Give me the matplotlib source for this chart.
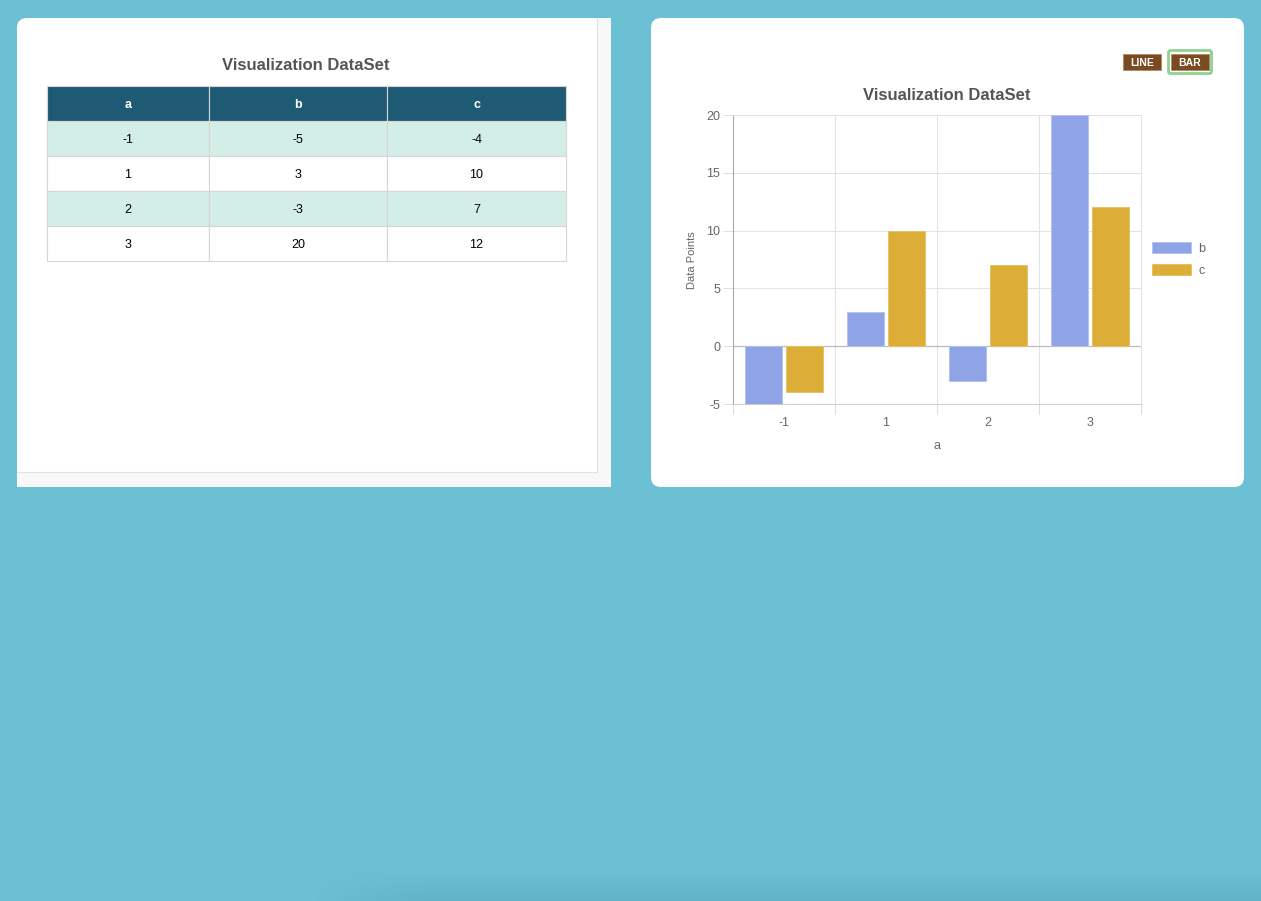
import numpy as np
import matplotlib
matplotlib.use("Agg")
import matplotlib.pyplot as plt
from matplotlib.patches import Rectangle, FancyBboxPatch

plt.rcParams['font.family'] = ['Liberation Sans', 'DejaVu Sans']
plt.rcParams['axes.unicode_minus'] = False

# data
cols = ['a', 'b', 'c']
a_vals = [-1, 1, 2, 3]
b_vals = [-5, 3, -3, 20]
c_vals = [-4, 10, 7, 12]

W, H = 1261, 901
fig = plt.figure(figsize=(W / 100, H / 100), dpi=100)
fig.patch.set_facecolor('#6bc0d4')

# background layer in pixel coords
bg = fig.add_axes([0, 0, 1, 1], zorder=0)
bg.set_xlim(0, W)
bg.set_ylim(H, 0)
bg.axis('off')

# faint shadow at bottom
grad = np.zeros((30, 200, 4))
grad[..., 0] = 0.33
grad[..., 1] = 0.62
grad[..., 2] = 0.70
vert = np.linspace(0, 0.4, 30)[:, None]
horiz = np.clip(np.linspace(0, 8, 200), 0, 1)[None, :]
grad[..., 3] = vert * horiz
bg.imshow(grad, extent=(310, W, H, H - 30), aspect='auto', zorder=1)

# left panel (scroll container)
bg.add_patch(Rectangle((27, 18), 584, 469, facecolor='#f8f8f8', edgecolor='none', zorder=2))
bg.add_patch(Rectangle((17, 28), 594, 459, facecolor='#f8f8f8', edgecolor='none', zorder=2))
bg.add_patch(FancyBboxPatch((17, 18), 580, 454, boxstyle='round,pad=0,rounding_size=10',
                            facecolor='white', edgecolor='none', zorder=3))
bg.add_patch(Rectangle((27, 18), 570, 454, facecolor='white', edgecolor='none', zorder=3))
bg.add_patch(Rectangle((17, 28), 580, 444, facecolor='white', edgecolor='none', zorder=3))
bg.plot([597, 597, 17], [18, 472, 472], color='#e2e2e2', lw=0.8, zorder=4)

# right panel
bg.add_patch(FancyBboxPatch((651, 18), 593, 469, boxstyle='round,pad=0,rounding_size=10',
                            facecolor='white', edgecolor='none', zorder=2))

# buttons
bg.add_patch(FancyBboxPatch((1168.5, 50.5), 43, 23, boxstyle='round,pad=0,rounding_size=2',
                            facecolor='none', edgecolor='#8fd18f', lw=2.0, zorder=4))
for x0, lab in [(1123, 'LINE'), (1171, 'BAR')]:
    bg.add_patch(Rectangle((x0, 54), 38, 16, facecolor='#7a4a20', edgecolor='#a98a6c', lw=0.6, zorder=5))
    bg.text(x0 + 19, 62.5, lab, color='white', fontsize=7.5, fontweight='bold',
            ha='center', va='center', zorder=6)

# table
fig.text(306 / W, 1 - 66 / H, 'Visualization DataSet', ha='center', va='center',
         fontsize=12, fontweight='bold', color='#555555')
tax = fig.add_axes([47 / W, 1 - 261 / H, 519 / W, 175 / H], zorder=3)
tax.axis('off')
rows = [[str(a), str(b), str(c)] for a, b, c in zip(a_vals, b_vals, c_vals)]
tbl = tax.table(cellText=rows, colLabels=cols, cellLoc='center', bbox=[0, 0, 1, 1],
                colWidths=[162, 178, 179])
tbl.auto_set_font_size(False)
for (r, c), cell in tbl.get_celld().items():
    cell.set_edgecolor('#d6d6d6')
    cell.set_linewidth(0.8)
    cell.get_text().set_fontsize(9)
    cell.get_text().set_va('center_baseline')
    if r == 0:
        cell.set_facecolor('#1f5a75')
        cell.get_text().set_color('white')
        cell.get_text().set_fontweight('bold')
    elif r % 2 == 1:
        cell.set_facecolor('#d3eee6')
    else:
        cell.set_facecolor('white')

# bar chart
ax = fig.add_axes([733 / W, 1 - 404 / H, 408 / W, 289 / H], zorder=3)
x = np.arange(len(a_vals))
bw = 0.36
ax.bar(x - 0.2, b_vals, bw, color='#8fa4e6', edgecolor='#b3c2f2', lw=0.7, label='b', zorder=3)
ax.bar(x + 0.2, c_vals, bw, color='#ddae37', edgecolor='#e8c266', lw=0.7, label='c', zorder=3)
ax.set_xlim(-0.5, len(a_vals) - 0.5)
ax.set_ylim(-5, 20)
ax.set_yticks([-5, 0, 5, 10, 15, 20])
ax.set_xticks(np.arange(len(a_vals) + 1) - 0.5)
ax.set_xticklabels([])
ax.set_xticks(x, minor=True)
ax.set_xticklabels([str(v) for v in a_vals], minor=True)
ax.tick_params(axis='x', which='major', length=7.2, width=0.7, color='#dddddd')
ax.tick_params(axis='x', which='minor', length=0, pad=9, labelsize=9, labelcolor='#666666')
ax.tick_params(axis='y', length=7.2, width=0.7, color='#dddddd', pad=2,
               labelsize=9, labelcolor='#666666')
ax.grid(True, which='major', color='#e2e2e2', lw=0.7, zorder=0)
ax.axhline(0, color='#bbbbbb', lw=0.9, zorder=2)
for s in ['top', 'right', 'bottom']:
    ax.spines[s].set_color('#e2e2e2')
    ax.spines[s].set_linewidth(0.7)
ax.spines['bottom'].set_color('#cccccc')
ax.spines['left'].set_color('#aaaaaa')
ax.spines['left'].set_linewidth(0.8)
ax.set_axisbelow(True)

fig.text(947 / W, 1 - 95 / H, 'Visualization DataSet', ha='center', va='center',
         fontsize=12, fontweight='bold', color='#555555')
fig.text(692 / W, 1 - 260 / H, 'Data Points', rotation=90, ha='center', va='center',
         fontsize=8, color='#666666')
fig.text(937 / W, 1 - 446 / H, 'a', ha='center', va='center', fontsize=9, color='#666666')

leg = ax.legend(loc='center left', bbox_to_anchor=(1.012, 0.5), frameon=False,
                handlelength=3.1, handleheight=0.95, handletextpad=0.6,
                labelspacing=0.75, fontsize=9, borderpad=0)
for t in leg.get_texts():
    t.set_color('#666666')

fig.savefig('out.png', dpi=100, facecolor=fig.get_facecolor())
